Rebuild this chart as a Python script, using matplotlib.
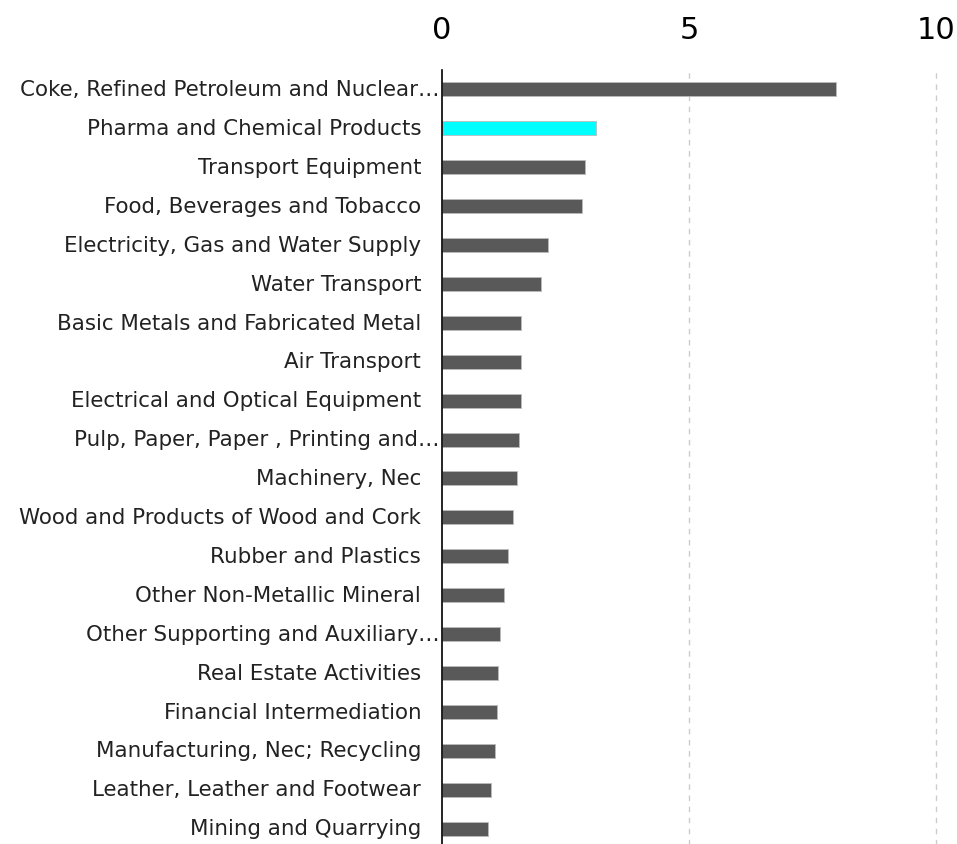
import matplotlib
matplotlib.use("Agg")
import matplotlib.pyplot as plt
import matplotlib.transforms as mtransforms

categories = [
    "Coke, Refined Petroleum and Nuclear\u2026",
    "Pharma and Chemical Products",
    "Transport Equipment",
    "Food, Beverages and Tobacco",
    "Electricity, Gas and Water Supply",
    "Water Transport",
    "Basic Metals and Fabricated Metal",
    "Air Transport",
    "Electrical and Optical Equipment",
    "Pulp, Paper, Paper , Printing and\u2026",
    "Machinery, Nec",
    "Wood and Products of Wood and Cork",
    "Rubber and Plastics",
    "Other Non-Metallic Mineral",
    "Other Supporting and Auxiliary\u2026",
    "Real Estate Activities",
    "Financial Intermediation",
    "Manufacturing, Nec; Recycling",
    "Leather, Leather and Footwear",
    "Mining and Quarrying",
]
values = [7.98, 3.12, 2.89, 2.83, 2.15, 2.0, 1.6, 1.6, 1.6, 1.56,
          1.52, 1.44, 1.34, 1.26, 1.17, 1.13, 1.11, 1.07, 0.99, 0.93]
highlight = "Pharma and Chemical Products"
xticks = [0, 5, 10]

fig = plt.figure(figsize=(9.57, 8.44), dpi=100)
ax = fig.add_axes([442 / 957, 1 - 848 / 844, (936 - 442) / 957, 778 / 844])

ypos = list(range(len(categories)))
colors = ["#00ffff" if c == highlight else "#595959" for c in categories]
ax.barh(ypos, values, height=0.36, color=colors, edgecolor="#bbbbbb", linewidth=0.6, zorder=3)

ax.set_xlim(0, 10)
ax.set_ylim(len(categories) - 0.5, -0.5)
ax.xaxis.tick_top()
ax.set_xticks(xticks)
ax.set_xticklabels([str(t) for t in xticks], fontsize=22)
ax.tick_params(axis="x", length=0, pad=18)
ax.set_yticks([])
for t in xticks[1:]:
    ax.axvline(t, color="#cccccc", linestyle=(0, (4, 4)), linewidth=1, zorder=1, clip_on=False)

for s in ["top", "right", "bottom"]:
    ax.spines[s].set_visible(False)
ax.spines["left"].set_color("black")
ax.spines["left"].set_linewidth(1.2)
ax.spines["left"].set_zorder(4)

# labels sit next to the axis; truncated ones run right up to it
trans = mtransforms.blended_transform_factory(ax.transData, ax.transData)
for y, c in zip(ypos, categories):
    off = 1.5 if c.endswith("\u2026") else 15
    tr = mtransforms.offset_copy(trans, fig=fig, x=-off, y=-0.5, units="points")
    ax.text(0, y, c, transform=tr, ha="right", va="center", fontsize=15.4, color="#222222")

fig.savefig("out.png", dpi=100)
